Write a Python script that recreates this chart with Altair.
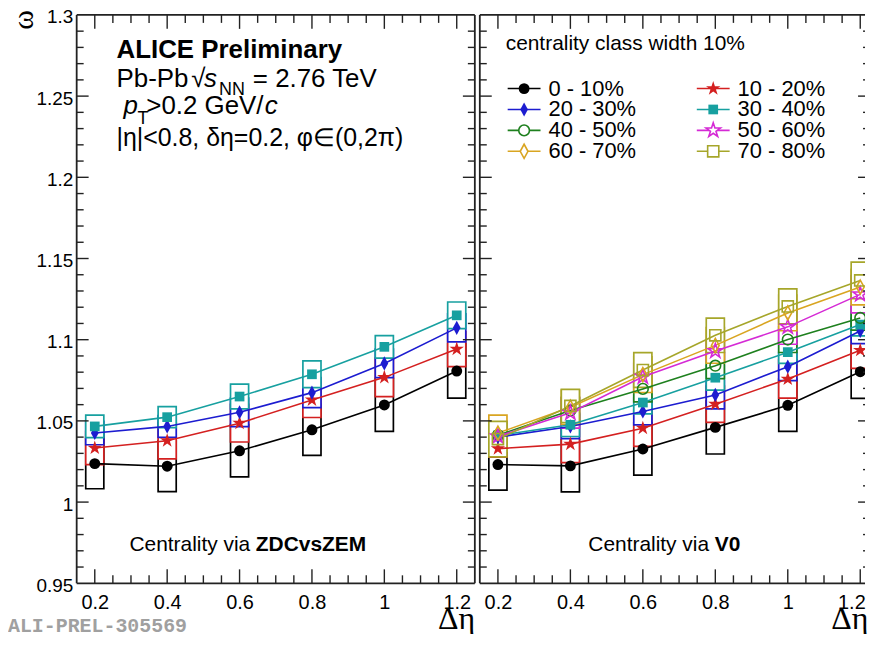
import altair as alt
import pandas as pd

# ---------------- data ----------------
d_eta = [0.2, 0.4, 0.6, 0.8, 1.0, 1.2]
classes = ["0 - 10%", "10 - 20%", "20 - 30%", "30 - 40%",
           "40 - 50%", "50 - 60%", "60 - 70%", "70 - 80%"]

# Centrality via ZDCvsZEM (values, systematic half-heights)
zdc_0_10 = [1.0237, 1.0221, 1.0316, 1.0445, 1.0598, 1.0807]
zdc_0_10_sys = [0.0155, 0.0157, 0.0161, 0.0157, 0.0163, 0.0167]
zdc_10_20 = [1.0333, 1.0378, 1.0486, 1.0629, 1.0768, 1.0942]
zdc_10_20_sys = [0.0102, 0.0112, 0.0116, 0.0108, 0.0118, 0.0108]
zdc_20_30 = [1.0425, 1.0466, 1.0553, 1.0674, 1.0854, 1.1073]
zdc_20_30_sys = [0.0072, 0.0067, 0.0088, 0.0092, 0.0088, 0.0086]
zdc_30_40 = [1.0466, 1.0523, 1.0650, 1.0787, 1.0956, 1.1150]
zdc_30_40_sys = [0.0069, 0.0065, 0.0076, 0.0082, 0.0069, 0.0082]

# Centrality via V0
v0_0_10 = [1.0231, 1.0223, 1.0327, 1.0460, 1.0596, 1.0803]
v0_0_10_sys = [0.0157, 0.0160, 0.0161, 0.0164, 0.0161, 0.0164]
v0_10_20 = [1.0329, 1.0357, 1.0455, 1.0603, 1.0758, 1.0935]
v0_10_20_sys = [0.0052, 0.0114, 0.0112, 0.0112, 0.0118, 0.0112]
v0_20_30 = [1.0400, 1.0466, 1.0558, 1.0660, 1.0834, 1.1054]
v0_20_30_sys = [0.0070, 0.0075, 0.0082, 0.0086, 0.0086, 0.0078]
v0_30_40 = [1.0410, 1.0476, 1.0613, 1.0766, 1.0923, 1.1093]
v0_30_40_sys = [0.0070, 0.0072, 0.0070, 0.0076, 0.0069, 0.0070]
v0_40_50 = [1.0412, 1.0564, 1.0697, 1.0840, 1.1001, 1.1134]
v0_40_50_sys = [0.0080, 0.0080, 0.0080, 0.0080, 0.0080, 0.0075]
v0_50_60 = [1.0405, 1.0550, 1.0772, 1.0930, 1.1079, 1.1279]
v0_50_60_sys = [0.0090, 0.0095, 0.0082, 0.0060, 0.0107, 0.0114]
v0_60_70 = [1.0425, 1.0584, 1.0785, 1.0965, 1.1165, 1.1324]
v0_60_70_sys = [0.0110, 0.0105, 0.0110, 0.0110, 0.0110, 0.0110]
v0_70_80 = [1.0388, 1.0592, 1.0813, 1.1027, 1.1205, 1.1365]
v0_70_80_sys = [0.0109, 0.0102, 0.0107, 0.0106, 0.0108, 0.0113]

y_major = [0.95, 1.0, 1.05, 1.1, 1.15, 1.2, 1.25, 1.3]
x_major = [0.2, 0.4, 0.6, 0.8, 1.0, 1.2]

# ---------------- style ----------------
colors = ["#000000", "#d42020", "#1c1cd0", "#17a0a0",
          "#1e801e", "#d52ad5", "#d9a521", "#a6a62a"]
STAR = ("M0,-1L0.225,-0.309L0.951,-0.309L0.363,0.118L0.588,0.809L0,0.382"
        "L-0.588,0.809L-0.363,0.118L-0.951,-0.309L-0.225,-0.309Z")
TDIAM = "M0,-1L0.55,0L0,1L-0.55,0Z"
shapes = ["circle", STAR, TDIAM, "square", "circle", STAR, TDIAM, "square"]
filled = [True, True, True, True, False, False, False, False]
msize = [120, 230, 200, 95, 115, 230, 200, 125]
BOX_HW = 0.025
H = 571
W_L = 400
W_R = 387
PX_PER_UNIT = 364.0
SANS = "Liberation Sans"
SERIF = "Liberation Serif"

y_minor = [round(0.95 + 0.01 * i, 2) for i in range(36)]
y_minor = [v for v in y_minor if all(abs(v - m) > 1e-6 for m in y_major)]
x_minor_all = [round(0.15 + 0.05 * i, 2) for i in range(23)]
x_minor = [v for v in x_minor_all if all(abs(v - m) > 1e-6 for m in x_major)
           and 0.16 < v < 1.24]


def series_df(vals_list, sys_list):
    rows = []
    for k, (vals, syss) in enumerate(zip(vals_list, sys_list)):
        for x, v, s in zip(d_eta, vals, syss):
            rows.append(dict(cls=classes[k], ord=k, x=x, y=v, lo=v - s, hi=v + s,
                             xlo=x - BOX_HW, xhi=x + BOX_HW, col=colors[k],
                             shp=shapes[k], msz=msize[k], filled=filled[k]))
    return pd.DataFrame(rows)


zdc_df = series_df([zdc_0_10, zdc_10_20, zdc_20_30, zdc_30_40],
                   [zdc_0_10_sys, zdc_10_20_sys, zdc_20_30_sys, zdc_30_40_sys])
v0_df = series_df([v0_0_10, v0_10_20, v0_20_30, v0_30_40,
                   v0_40_50, v0_50_60, v0_60_70, v0_70_80],
                  [v0_0_10_sys, v0_10_20_sys, v0_20_30_sys, v0_30_40_sys,
                   v0_40_50_sys, v0_50_60_sys, v0_60_70_sys, v0_70_80_sys])

dummy = pd.DataFrame({"a": [0]})


def text(t, x, y, size, font=SANS, weight="normal", style="normal",
         color="black", angle=0, align="left", baseline="alphabetic"):
    return alt.Chart(dummy).mark_text(
        text=t, font=font, fontSize=size, fontWeight=weight, fontStyle=style,
        color=color, angle=angle, align=align, baseline=baseline
    ).encode(x=alt.value(x), y=alt.value(y))


def panel(df, W, xdomain, is_left, extra):
    xs = alt.Scale(domain=xdomain, nice=False, zero=False)
    ys = alt.Scale(domain=[0.95, 1.3], nice=False, zero=False)
    xaxis_kw = dict(values=x_major, format="~g", labelFontSize=20, labelFont=SANS,
                    labelColor="black", ticks=False, domain=False, grid=False,
                    title=None, labelPadding=9)
    if is_left:
        xaxis = alt.Axis(labelFlush=False, **xaxis_kw)
        yaxis = alt.Axis(values=y_major, format="~g", labelFontSize=19, labelFont=SANS,
                         labelColor="black", ticks=False, domain=False, grid=False,
                         title=None, labelPadding=4, labelOffset=2)
    else:
        xaxis = alt.Axis(labelFlush=6, labelFlushOffset=5, **xaxis_kw)
        yaxis = None
    clip = not is_left

    def X(f):
        return alt.X(f, type="quantitative", scale=xs, axis=xaxis)

    def Y(f):
        return alt.Y(f, type="quantitative", scale=ys, axis=yaxis)

    boxes = alt.Chart(df).mark_rect(fill="white", strokeWidth=1.7, clip=clip).encode(
        x=X("xlo"), x2="xhi", y=Y("lo"), y2="hi",
        stroke=alt.Stroke("col:N", scale=None), order=alt.Order("ord:Q"))
    lines = alt.Chart(df).mark_line(strokeWidth=1.6, clip=clip).encode(
        x=X("x"), y=Y("y"), color=alt.Color("col:N", scale=None),
        detail="cls:N", order=alt.Order("x:Q"))
    pts_f = alt.Chart(df[df["filled"]]).mark_point(filled=True, opacity=1, clip=clip).encode(
        x=X("x"), y=Y("y"), color=alt.Color("col:N", scale=None),
        shape=alt.Shape("shp:N", scale=None), size=alt.Size("msz:Q", scale=None),
        order=alt.Order("ord:Q"))
    layers = [boxes, lines, pts_f]
    if (~df["filled"]).any():
        pts_o = alt.Chart(df[~df["filled"]]).mark_point(
            filled=False, opacity=1, strokeWidth=1.6, clip=clip).encode(
            x=X("x"), y=Y("y"), color=alt.Color("col:N", scale=None),
            shape=alt.Shape("shp:N", scale=None), size=alt.Size("msz:Q", scale=None),
            order=alt.Order("ord:Q"))
        layers.append(pts_o)

    # inward ticks
    tk = dict(color="#222222", strokeWidth=1.4)
    xM = pd.DataFrame({"t": x_major})
    xm = pd.DataFrame({"t": x_minor})
    yM = pd.DataFrame({"t": y_major[1:-1]})
    ym = pd.DataFrame({"t": y_minor})
    rlen_M, rlen_m = (12, 7) if is_left else (7, 2)
    layers += [
        alt.Chart(xM).mark_rule(**tk).encode(x=X("t"), y=alt.value(H), y2=alt.value(H - 14)),
        alt.Chart(xM).mark_rule(**tk).encode(x=X("t"), y=alt.value(0), y2=alt.value(14)),
        alt.Chart(xm).mark_rule(**tk).encode(x=X("t"), y=alt.value(H), y2=alt.value(H - 8)),
        alt.Chart(xm).mark_rule(**tk).encode(x=X("t"), y=alt.value(0), y2=alt.value(8)),
        alt.Chart(yM).mark_rule(**tk).encode(y=Y("t"), x=alt.value(0), x2=alt.value(12)),
        alt.Chart(ym).mark_rule(**tk).encode(y=Y("t"), x=alt.value(0), x2=alt.value(7)),
        alt.Chart(yM).mark_rule(**tk).encode(y=Y("t"), x=alt.value(W), x2=alt.value(W - rlen_M)),
        alt.Chart(ym).mark_rule(**tk).encode(y=Y("t"), x=alt.value(W), x2=alt.value(W - rlen_m)),
    ]
    # frame
    fr = dict(color="#222222", strokeWidth=1.8)
    layers += [
        alt.Chart(dummy).mark_rule(**fr).encode(x=alt.value(0), y=alt.value(0), y2=alt.value(H)),
        alt.Chart(dummy).mark_rule(**fr).encode(x=alt.value(0), x2=alt.value(W), y=alt.value(0)),
        alt.Chart(dummy).mark_rule(**fr).encode(x=alt.value(0), x2=alt.value(W), y=alt.value(H)),
    ]
    if is_left:
        layers.append(alt.Chart(dummy).mark_rule(**fr).encode(
            x=alt.value(W), y=alt.value(0), y2=alt.value(H)))
    layers += extra
    return alt.layer(*layers).properties(width=W, height=H)


# ---------------- annotations ----------------
left_extra = [
    text("ω", -53, 5, 30, font=SERIF, angle=270, align="center", baseline="middle"),
    text("ALICE Preliminary", 40, 43, 26, weight="bold"),
    text("Pb-Pb", 40, 72, 26),
    text("√", 115, 72, 26),
    text("s", 128, 72, 26, style="italic"),
    text("NN", 143, 80, 18),
    text("= 2.76 TeV", 177, 72, 26),
    text("p", 47, 100, 26, style="italic"),
    text("T", 61, 110, 18),
    text(">0.2 GeV/", 70, 100, 26),
    text("c", 189, 100, 26, style="italic"),
    text("|η|<0.8, δη=0.2, φ∈(0,2π)", 40, 132, 25),
    text("Centrality via ", 53, 539, 21),
    text("ZDCvsZEM", 180, 539, 21, weight="bold"),
    text("Δη", 363, 617, 32, font=SERIF),
    text("ALI-PREL-305569", -69, 620, 20, font="Liberation Mono", weight="bold",
         color="#a0a0a0"),
]

# legend inside right panel
leg_rows = []
for k, c in enumerate(classes):
    col, row = k % 2, k // 2
    x0 = 28 + col * 190
    leg_rows.append(dict(l1=x0, l2=x0 + 33, mx=x0 + 16.5, tx=x0 + 41, ly=74 + row * 21,
                         cls=c, col=colors[k], shp=shapes[k], msz=msize[k],
                         filled=filled[k]))
leg = pd.DataFrame(leg_rows)
leg_layers = [
    alt.Chart(leg).mark_rule(strokeWidth=1.6).encode(
        x=alt.X("l1:Q", scale=None), x2="l2:Q", y=alt.Y("ly:Q", scale=None),
        color=alt.Color("col:N", scale=None)),
    alt.Chart(leg[leg["filled"]]).mark_point(filled=True, opacity=1).encode(
        x=alt.X("mx:Q", scale=None), y=alt.Y("ly:Q", scale=None),
        color=alt.Color("col:N", scale=None), shape=alt.Shape("shp:N", scale=None),
        size=alt.Size("msz:Q", scale=None)),
    alt.Chart(leg[~leg["filled"]]).mark_point(filled=False, opacity=1, strokeWidth=1.6,
                                               fill="white").encode(
        x=alt.X("mx:Q", scale=None), y=alt.Y("ly:Q", scale=None),
        color=alt.Color("col:N", scale=None), shape=alt.Shape("shp:N", scale=None),
        size=alt.Size("msz:Q", scale=None)),
    alt.Chart(leg).mark_text(align="left", baseline="middle", fontSize=22, font=SANS,
                             color="black").encode(
        x=alt.X("tx:Q", scale=None), y=alt.Y("ly:Q", scale=None), text="cls:N"),
]

right_extra = [
    text("centrality class width 10%", 26, 35, 21),
] + leg_layers + [
    text("Centrality via ", 109, 539, 21),
    text("V0", 236, 539, 21, weight="bold"),
    text("Δη", 353, 617, 32, font=SERIF),
]

left = panel(zdc_df, W_L, [0.15, 1.25], True, left_extra)
right = panel(v0_df, W_R, [0.15, 0.15 + W_R / PX_PER_UNIT], False, right_extra)

chart = alt.hconcat(left, right, spacing=5).properties(
    bounds="flush", padding={"top": -1.5, "left": 0, "right": 0, "bottom": -4}
).configure_view(stroke=None)

chart.save("out.html", embed_options={"renderer": "svg", "actions": False})
